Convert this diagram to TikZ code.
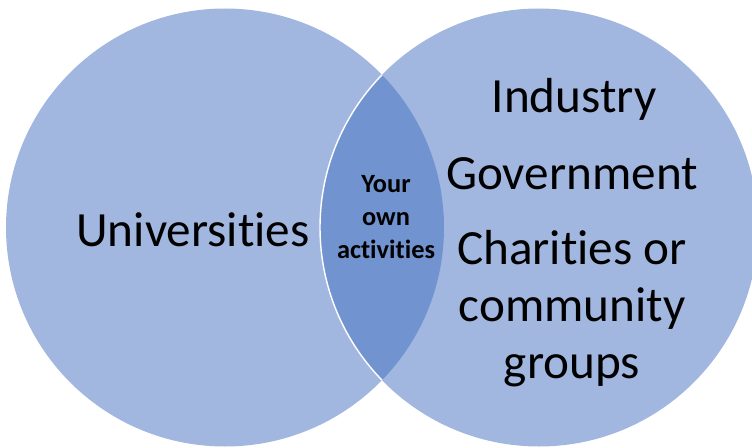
\documentclass[tikz,border=0pt]{standalone}
\usepackage{fontspec}
\setmainfont[Ligatures=NoCommon]{Carlito}
\usepackage{tikz}
\definecolor{setblue}{RGB}{161,183,224}
\definecolor{lensblue}{RGB}{113,148,208}

\begin{document}
\begin{tikzpicture}[bigtext/.style={font=\fontsize{28}{34}\selectfont,inner sep=0pt,align=center},
   smalltext/.style={font=\bfseries\fontsize{15}{18.8}\selectfont,inner sep=0pt,align=center}]
   \useasboundingbox (0,0) rectangle (15.04,8.94);
   \fill[setblue] (4.50,4.39) circle (4.38);
   \fill[setblue] (10.78,4.39) circle (4.38);
   \begin{scope}
     \clip (4.50,4.39) circle (4.38);
     \fill[lensblue] (10.78,4.39) circle (4.38);
     \draw[white,line width=0.8pt] (10.78,4.39) circle (4.38);
   \end{scope}
   %\draw[white] (4.50,4.39) circle (4.38);
   \node[bigtext] (univ) at (3.86,4.34) {Universities};
   \node[smalltext] (own) at (7.72,4.60) {Your\\own\\activities};
   \node[bigtext] (industry) at (11.48,6.95) {Industry};
   \node[bigtext] (gov) at (11.44,5.47) {Government};
   \node[bigtext,font=\fontsize{28}{32.4}\selectfont] (charity) at (11.44,2.76) {Charities or\\community\\groups};
\end{tikzpicture}
\end{document}
